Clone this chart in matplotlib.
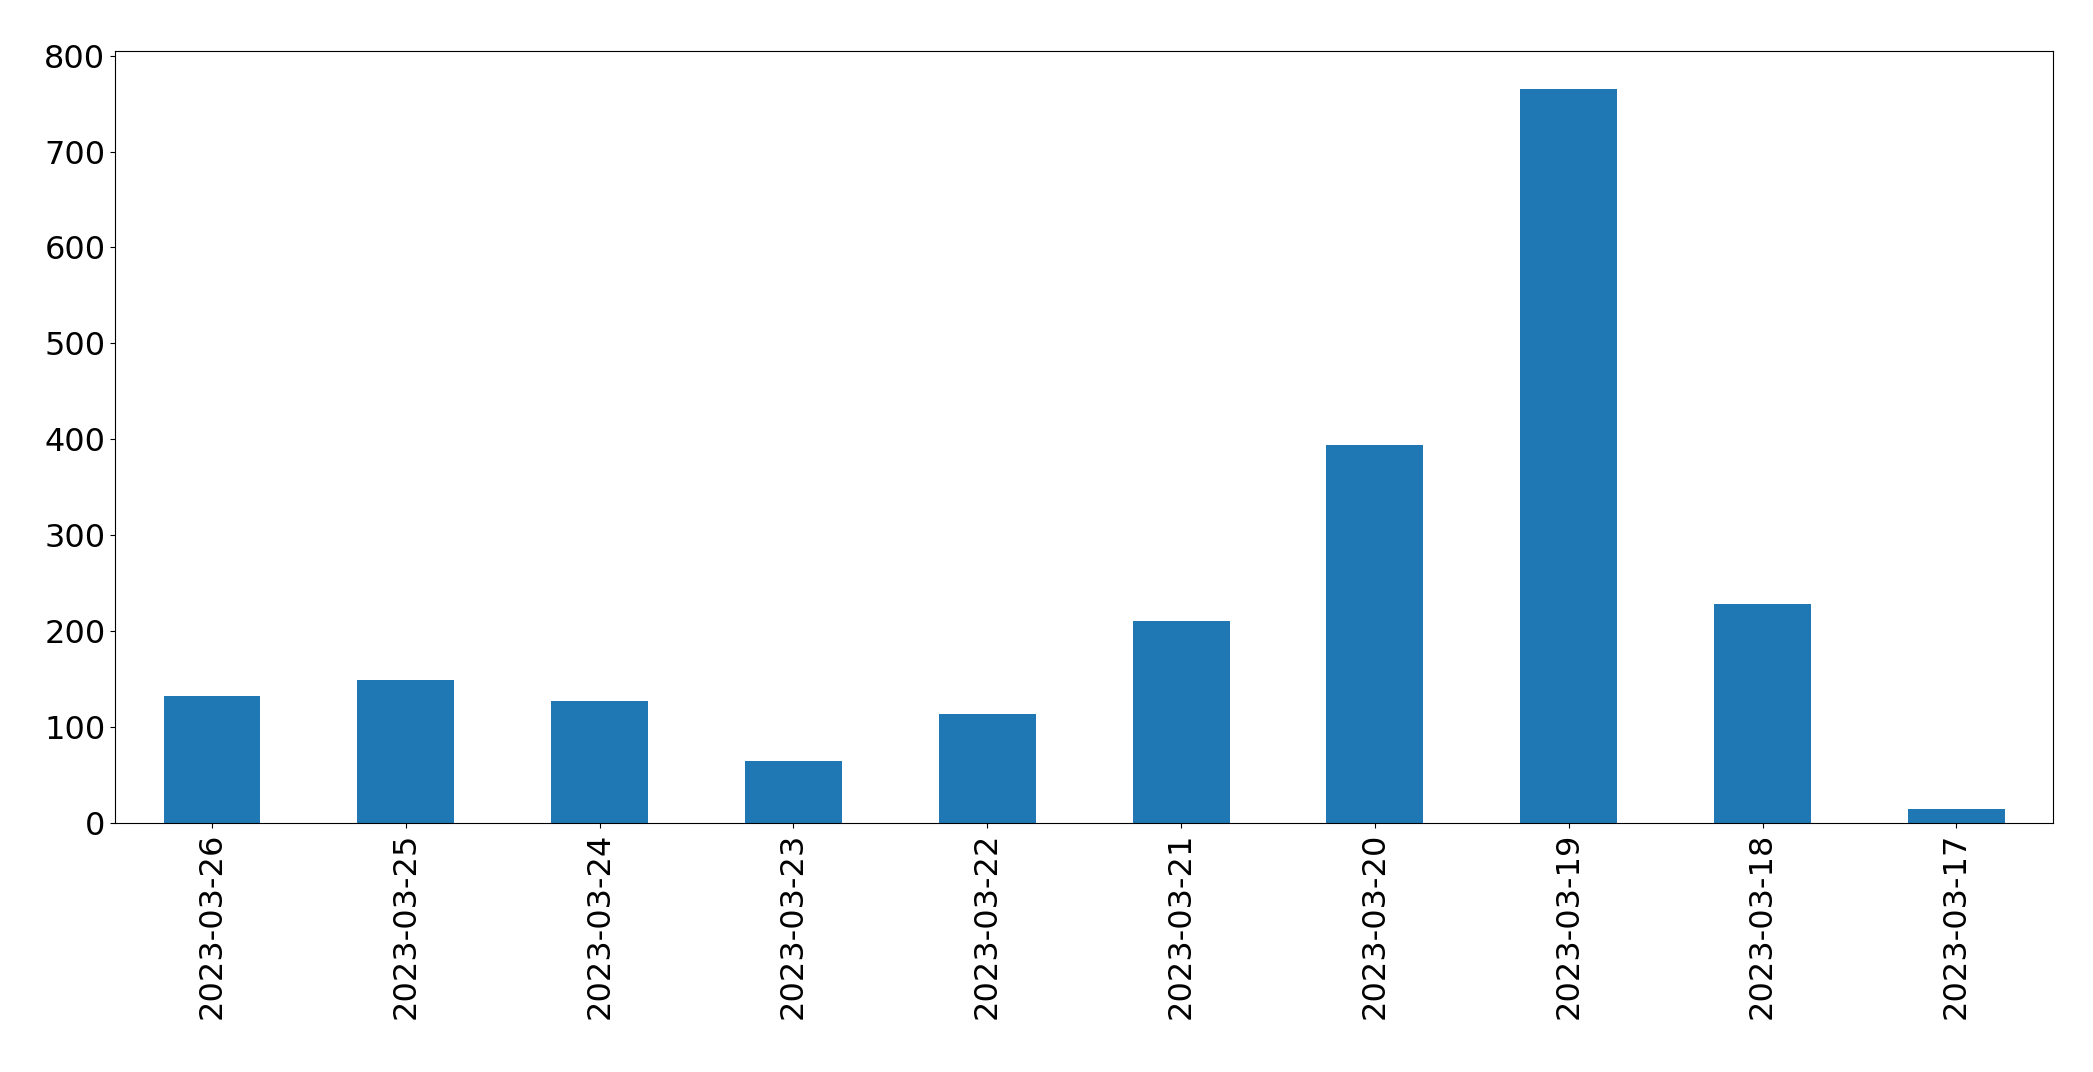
import matplotlib
matplotlib.use("Agg")
import matplotlib.pyplot as plt
import numpy as np

dates = ["2023-03-26","2023-03-25","2023-03-24","2023-03-23","2023-03-22",
         "2023-03-21","2023-03-20","2023-03-19","2023-03-18","2023-03-17"]
counts = [132, 149, 127, 64, 113, 210, 394, 765, 228, 14]

fig = plt.figure(figsize=(20.93, 10.72), dpi=100)
ax = fig.add_axes([0.055, 0.2325, 0.926, 0.72])
x = np.arange(len(dates))
ax.bar(x, counts, width=0.5, color="#1f77b4")
ax.set_xlim(-0.5, len(dates) - 0.5)
ax.set_ylim(0, 805)
ax.set_xticks(x)
ax.set_xticklabels(dates, rotation=90)
ax.tick_params(labelsize=23)
fig.savefig("out.png", dpi=100)
